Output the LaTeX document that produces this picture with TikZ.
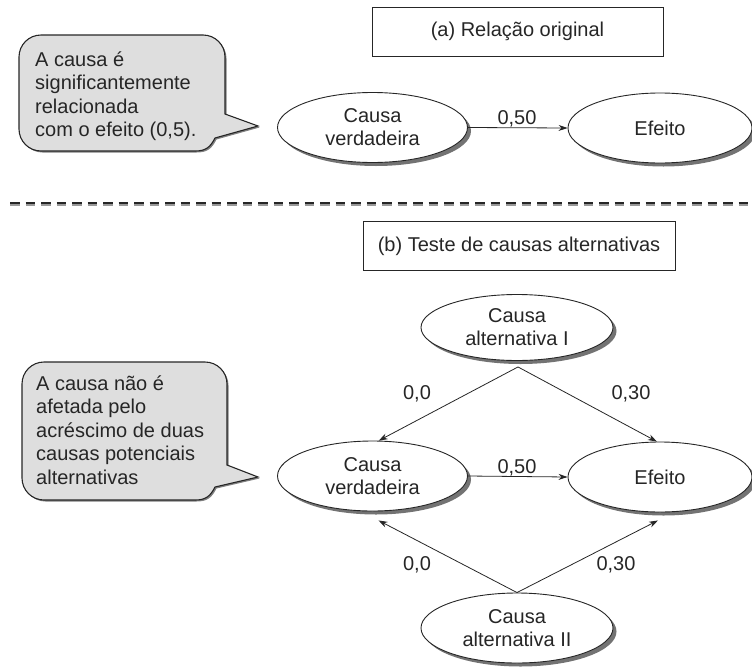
\documentclass[tikz,border=0pt]{standalone}
\usepackage{fontspec}
\setmainfont{Liberation Sans}
\usetikzlibrary{shapes.geometric,shadows,arrows.meta,calc}
\begin{document}
\begin{tikzpicture}[x=1pt,y=1pt,
  every node/.style={font=\fontsize{20}{23}\selectfont, text=black!85},
  ell/.style={ellipse, draw=black!85, line width=0.9pt, fill=white, inner sep=0pt,
    minimum width=190pt, minimum height=70pt, align=center,
    drop shadow={shadow xshift=3.5pt, shadow yshift=-3.5pt, fill=black!55, opacity=1}},
  arr/.style={-{Stealth[length=9pt,width=6pt]}, line width=0.8pt, draw=black!85},
  lbl/.style={inner sep=0pt, anchor=base},
  titlebox/.style={draw=black!85, line width=0.9pt, minimum height=49pt, inner sep=0pt},
  callout/.style={draw=black!85, line width=1.1pt, fill=black!13,
    drop shadow={shadow xshift=1.5pt, shadow yshift=-1.5pt, fill=black!50, opacity=1}},
  ctext/.style={anchor=base west, align=left, inner sep=0pt},
  dashline/.style={line width=1.3pt, dash pattern=on 9.5pt off 6pt}
]
\useasboundingbox (0,0) rectangle (752,-667);

% callouts
\draw[callout] (41,-35) -- (203,-35) arc[start angle=90,end angle=0,radius=22]
  -- (225,-114) -- (258,-126) -- (215,-138)
  .. controls (210,-148) and (205,-151) .. (195,-151)
  -- (41,-151) arc[start angle=270,end angle=180,radius=22]
  -- (19,-57) arc[start angle=180,end angle=90,radius=22] -- cycle;
\draw[callout] (44,-362) -- (205,-362) arc[start angle=90,end angle=0,radius=22]
  -- (227,-465) -- (258,-477) -- (215,-487)
  .. controls (210,-497) and (205,-500) .. (195,-500)
  -- (44,-500) arc[start angle=270,end angle=180,radius=22]
  -- (22,-384) arc[start angle=180,end angle=90,radius=22] -- cycle;

\node[ctext, font=\fontsize{20}{23.5}\selectfont] (t1) at (35,-136.5) {A causa é\\significantemente\\relacionada\\com o efeito (0,5).};
\node[ctext, font=\fontsize{20}{23.6}\selectfont] (t2) at (36,-484.4) {A causa não é\\afetada pelo\\acréscimo de duas\\causas potenciais\\alternativas};

% title boxes
\node[titlebox, minimum width=291pt] (ta) at (517.5,-31.5) {(a) Relação original};
\node[titlebox, minimum width=312pt] (tb) at (519,-246) {(b) Teste de causas alternativas};

% dashed separator
\coordinate (dl) at (10,-203);
\coordinate (dr) at (752,-203);
\draw[dashline, black!40] ($(dl)+(0,-2)$) -- ($(dr)+(0,-2)$);
\draw[dashline, black!85] (dl) -- (dr);

% ellipses
\node[ell] (cv1) at (372.5,-127.5) {Causa\\verdadeira};
\node[ell, minimum width=184pt] (ef1) at (660,-128) {Efeito};
\node[ell] (cv2) at (372.5,-476) {Causa\\verdadeira};
\node[ell, minimum width=184pt] (ef2) at (660,-477) {Efeito};
\node[ell, minimum width=192pt, minimum height=66pt] (a1) at (517,-327.5) {Causa\\alternativa I};
\node[ell, minimum width=192pt] (a2) at (517,-628) {Causa\\alternativa II};

% connectors
\draw[arr] (cv1.east) -- (ef1.west);
\draw[arr] (cv2.east) -- (ef2.west);
\coordinate (apx1) at ($(a1.south)+(1,-6)$);
\draw[arr] (apx1) -- (cv2.80);
\draw[arr] (apx1) -- (ef2.95);
\coordinate (c2) at ($(cv2.south)+(6,-9)$);
\coordinate (e2) at ($(ef2.south)+(-2,-8)$);
\draw[arr] (a2.north) -- (c2);
\draw[arr] (a2.north) -- (e2);

% labels
\node[lbl] (l1) at (517,-124) {0,50};
\node[lbl] (l2) at (517,-473) {0,50};
\node[lbl] (l3) at (417,-399) {0,0};
\node[lbl] (l4) at (631,-399) {0,30};
\node[lbl] (l5) at (417,-570) {0,0};
\node[lbl] (l6) at (616,-570) {0,30};
\end{tikzpicture}
\end{document}
